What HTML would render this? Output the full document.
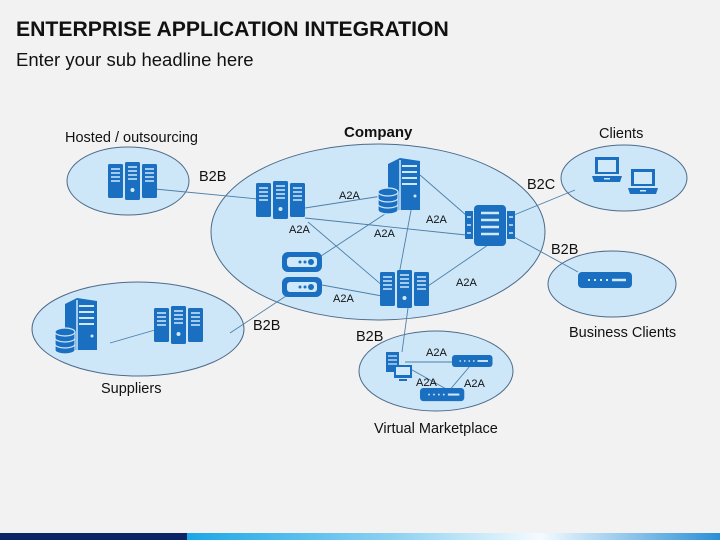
<!DOCTYPE html>
<html><head><meta charset="utf-8"><style>
body{margin:0;width:720px;height:540px;background:#f2f2f2;overflow:hidden;font-family:"Liberation Sans",sans-serif;}
</style></head><body>
<svg width="720" height="540" viewBox="0 0 720 540" xmlns="http://www.w3.org/2000/svg" style="position:absolute;left:0;top:0">
<defs>
<linearGradient id="bg" x1="0" x2="1"><stop offset="0" stop-color="#0a5cc0"/><stop offset="0.25" stop-color="#16a6e6"/><stop offset="0.55" stop-color="#8fd2f2"/><stop offset="0.75" stop-color="#f4fbff"/><stop offset="1" stop-color="#2a8fd6"/></linearGradient>
<g id="rack">
<rect x="0" y="2" width="15" height="34" rx="1.5" fill="#1a6fc0"/>
<rect x="17" y="0" width="15" height="38" rx="1.5" fill="#1a6fc0"/>
<rect x="34" y="2" width="15" height="34" rx="1.5" fill="#1a6fc0"/>
<g stroke="#cfe8fa" stroke-width="1.6">
<path d="M3 7h9M3 11h9M3 15h9M3 19h9M20 5h9M20 9h9M20 13h9M20 17h9M37 7h9M37 11h9M37 15h9M37 19h9"/></g>
<circle cx="24.5" cy="28" r="2" fill="#cfe8fa"/>
</g>
<g id="tower">
<path d="M10 6 L22 0 L42 3 L42 52 L10 52 Z" fill="#1a6fc0"/>
<g stroke="#cfe8fa" stroke-width="2"><path d="M24 8h15M24 14h15M24 20h15M24 26h15"/><path d="M22 2V52" stroke-width="1.5"/></g>
<circle cx="37" cy="38" r="1.5" fill="#cfe8fa"/>
<g fill="#1a6fc0" stroke="#cfe8fa" stroke-width="1.2">
<ellipse cx="10" cy="46" rx="10" ry="4"/><path d="M0 46v6a10 4 0 0 0 20 0v-6"/>
<path d="M0 40v6a10 4 0 0 0 20 0v-6"/><path d="M0 34v6a10 4 0 0 0 20 0v-6"/><ellipse cx="10" cy="34" rx="10" ry="4"/></g>
</g>
<g id="router">
<rect x="0" y="0" width="40" height="20" rx="6" fill="#1a6fc0"/><rect x="5" y="5" width="30" height="10" rx="3" fill="#cfe8fa"/>
<circle cx="18" cy="10" r="1.5" fill="#1a6fc0"/><circle cx="23" cy="10" r="1.5" fill="#1a6fc0"/><circle cx="29" cy="10" r="3" fill="#1a6fc0"/>
</g>
<g id="modem"><rect x="0" y="0" width="54" height="16" rx="4" fill="#1a6fc0"/><path d="M10 8h2M16 8h2M22 8h2M28 8h2" stroke="#cfe8fa" stroke-width="2"/><path d="M34 8h14" stroke="#cfe8fa" stroke-width="2.5"/></g>
<g id="laptop"><rect x="3" y="0" width="24" height="17" fill="#1a6fc0"/><rect x="6" y="3" width="18" height="12" fill="#cfe8fa"/><path d="M0 19h30l-2 6H2z" fill="#1a6fc0"/><rect x="12" y="21" width="6" height="1.5" fill="#cfe8fa"/></g>
</defs>
<text x="16" y="36" font-size="21.2" font-weight="bold" fill="#111">ENTERPRISE APPLICATION INTEGRATION</text>
<text x="16" y="66" font-size="18.5" fill="#111">Enter your sub headline here</text>
<g fill="#cde7f9" stroke="#4d6b8a" stroke-width="1">
<ellipse cx="378" cy="232" rx="167" ry="88"/>
<ellipse cx="128" cy="181" rx="61" ry="34"/>
<ellipse cx="624" cy="178" rx="63" ry="33"/>
<ellipse cx="612" cy="284" rx="64" ry="33"/>
<ellipse cx="138" cy="329" rx="106" ry="47"/>
<ellipse cx="436" cy="371" rx="77" ry="40"/>
</g>
<g stroke="#4d7fa8" stroke-width="0.9" fill="none">
<path d="M155 189L258 199"/><path d="M305 208L382 196"/><path d="M305 218L466 235"/><path d="M308 222L390 292"/>
<path d="M388 212L318 258"/><path d="M412 205L398 280"/><path d="M420 175L466 215"/><path d="M488 245L428 286"/>
<path d="M322 285L382 296"/><path d="M514 215L575 190"/><path d="M514 237L578 272"/><path d="M286 296L230 333"/>
<path d="M408 308L402 352"/><path d="M110 343L155 330"/>
<path d="M405 362L460 362"/><path d="M405 366L448 390"/><path d="M448 392L470 366"/>
</g>
<use href="#rack" x="256" y="181"/>
<use href="#tower" x="378" y="158"/>
<g transform="translate(465,205)"><rect x="0" y="6" width="8" height="28" fill="#1a6fc0"/><rect x="42" y="6" width="8" height="28" fill="#1a6fc0"/><rect x="9" y="0" width="32" height="41" rx="4" fill="#1a6fc0"/><path d="M16 8h18M16 15h18M16 22h18M16 29h18" stroke="#cfe8fa" stroke-width="2.5"/><path d="M2 12h4M2 20h4M2 28h4M44 12h4M44 20h4M44 28h4" stroke="#cfe8fa" stroke-width="1.5"/></g>
<use href="#router" x="282" y="252"/><use href="#router" x="282" y="277"/>
<use href="#rack" x="380" y="270"/>
<use href="#rack" x="108" y="162"/>
<use href="#tower" x="55" y="298"/>
<use href="#rack" x="154" y="306"/>
<use href="#laptop" x="592" y="157"/><use href="#laptop" x="628" y="169"/>
<use href="#modem" x="578" y="272"/>
<g transform="translate(386,352)"><rect x="0" y="0" width="13" height="20" fill="#1a6fc0"/><path d="M2 4h9M2 8h9M2 12h9" stroke="#cfe8fa" stroke-width="1.2"/><rect x="8" y="13" width="18" height="13" fill="#1a6fc0"/><rect x="10" y="15" width="14" height="8" fill="#cfe8fa"/><rect x="13" y="27" width="8" height="2" fill="#1a6fc0"/></g>
<use href="#modem" x="452" y="355" transform="translate(452,355) scale(0.75) translate(-452,-355)"/>
<use href="#modem" x="420" y="388" transform="translate(420,388) scale(0.82) translate(-420,-388)"/>
<g font-size="11" fill="#111">
<text x="339" y="199">A2A</text><text x="289" y="233">A2A</text><text x="374" y="237">A2A</text><text x="426" y="223">A2A</text>
<text x="456" y="286">A2A</text><text x="333" y="302">A2A</text>
<text x="426" y="356">A2A</text><text x="416" y="386">A2A</text><text x="464" y="387">A2A</text>
</g>
<g font-size="14.5" fill="#111">
<text x="199" y="181">B2B</text><text x="527" y="189">B2C</text><text x="551" y="254">B2B</text>
<text x="253" y="330">B2B</text><text x="356" y="341">B2B</text>
<text x="65" y="142">Hosted / outsourcing</text>
<text x="344" y="137" font-weight="bold" font-size="15">Company</text>
<text x="599" y="138">Clients</text>
<text x="569" y="337">Business Clients</text>
<text x="101" y="393">Suppliers</text>
<text x="374" y="433">Virtual Marketplace</text>
</g>
<rect x="0" y="533" width="720" height="7" fill="url(#bg)"/>
<rect x="0" y="533" width="187" height="7" fill="#0b2466"/>
</svg>
</body></html>
